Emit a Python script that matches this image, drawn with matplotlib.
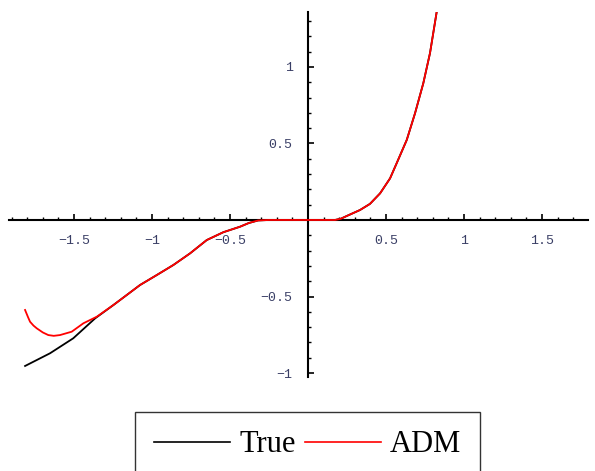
import matplotlib
matplotlib.use("Agg")
import matplotlib.pyplot as plt
from matplotlib.ticker import MultipleLocator, FuncFormatter

# values
true_x = [-1.814, -1.654, -1.505, -1.365, -1.248, -1.12, -1.077, -0.97, -0.863,
          -0.756, -0.649, -0.543, -0.436, -0.38, -0.32, -0.25, 0.0, 0.173, 0.21,
          0.248, 0.333, 0.397, 0.462, 0.526, 0.568, 0.633, 0.686, 0.739, 0.782, 0.825]
true_y = [-0.954, -0.871, -0.773, -0.643, -0.556, -0.458, -0.425, -0.36, -0.294,
          -0.218, -0.131, -0.080, -0.044, -0.02, -0.003, 0.0, 0.0, 0.0, 0.008,
          0.026, 0.065, 0.105, 0.174, 0.272, 0.37, 0.523, 0.697, 0.893, 1.09, 1.36]

adm_x = [-1.814, -1.795, -1.782, -1.76, -1.739, -1.70, -1.665, -1.63, -1.59,
         -1.515, -1.44, -1.354, -1.248, -1.12, -1.077, -0.97, -0.863, -0.756,
         -0.70, -0.649, -0.543, -0.436, -0.38, -0.32, -0.25, 0.0, 0.173, 0.21,
         0.248, 0.333, 0.397, 0.462, 0.526, 0.568, 0.633, 0.686, 0.739, 0.782, 0.825]
adm_y = [-0.588, -0.635, -0.665, -0.69, -0.708, -0.735, -0.752, -0.757, -0.752,
         -0.73, -0.675, -0.632, -0.556, -0.458, -0.425, -0.36, -0.294, -0.218,
         -0.172, -0.131, -0.080, -0.044, -0.02, -0.003, 0.0, 0.0, 0.0, 0.008,
         0.026, 0.065, 0.105, 0.174, 0.272, 0.37, 0.523, 0.697, 0.893, 1.09, 1.36]

W, H = 595, 471
fig = plt.figure(figsize=(W / 100, H / 100), dpi=100)
ax = fig.add_axes([9 / W, 1 - 377 / H, (588 - 9) / W, (377 - 12) / H])
ax.set_xlim(-1.917, 1.795)
ax.set_ylim(-1.026, 1.359)

l_true, = ax.plot(true_x, true_y, color="black", lw=1.3, zorder=3)
l_adm, = ax.plot(adm_x, adm_y, color="red", lw=1.3, zorder=4)

for side in ("top", "right"):
    ax.spines[side].set_visible(False)
for side in ("left", "bottom"):
    ax.spines[side].set_position("zero")
    ax.spines[side].set_linewidth(1.5)
    ax.spines[side].set_zorder(2)

ax.xaxis.set_major_locator(MultipleLocator(0.5))
ax.xaxis.set_minor_locator(MultipleLocator(0.1))
ax.yaxis.set_major_locator(MultipleLocator(0.5))
ax.yaxis.set_minor_locator(MultipleLocator(0.1))


def fmt(v, pos):
    if abs(v) < 1e-9:
        return ""
    s = ("%g" % v)
    return s.replace("-", "\u2212")


ax.xaxis.set_major_formatter(FuncFormatter(fmt))
ax.yaxis.set_major_formatter(FuncFormatter(fmt))
ax.tick_params(which="major", direction="in", length=4.5, width=1.2,
               labelsize=9.5, labelcolor="#3a3f66")
ax.tick_params(which="minor", direction="in", length=2.5, width=1.0)
ax.tick_params(axis="x", which="major", pad=11)
ax.tick_params(axis="y", which="major", pad=11)
for lab in ax.get_xticklabels() + ax.get_yticklabels():
    lab.set_family("Liberation Mono")

leg = fig.legend([l_true, l_adm], ["True", "ADM"], loc="center",
                 bbox_to_anchor=(307.5 / W, 1 - 445 / H), ncol=2,
                 prop={"family": "Liberation Serif", "size": 22},
                 frameon=True, fancybox=False, edgecolor="black",
                 handlelength=2.5, handletextpad=0.3, columnspacing=0.3,
                 borderpad=0.6, borderaxespad=0)
leg.get_frame().set_linewidth(1.0)
for h in leg.get_lines():
    h.set_linewidth(1.2)

fig.savefig("out.png", dpi=100)
